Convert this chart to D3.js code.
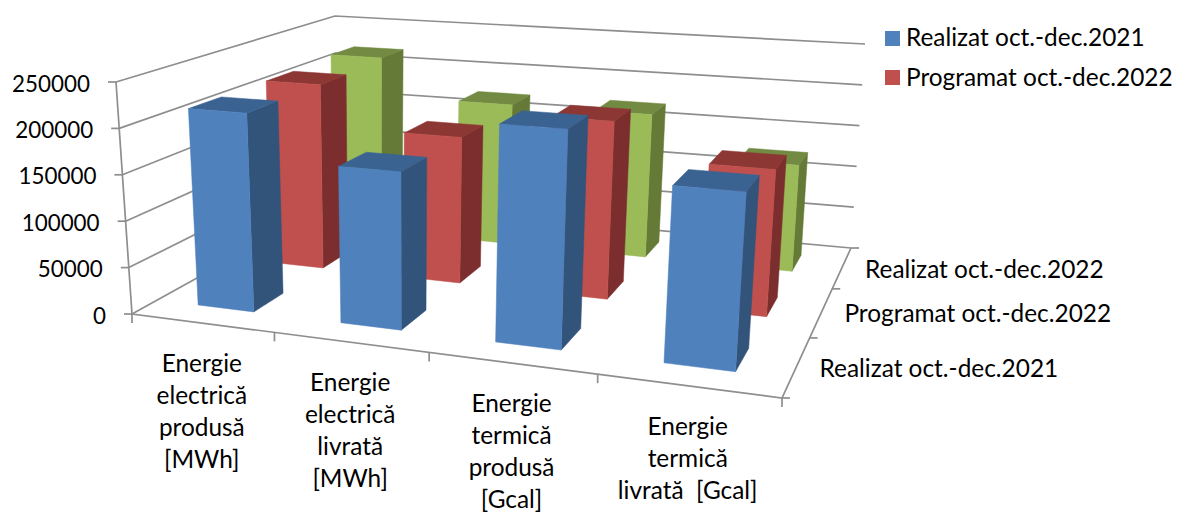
<html>
  <head>
    <meta charset="utf-8">
    <title>Energie</title>
    <script src="https://cdn.jsdelivr.net/npm/d3@7"></script>
    <style>
     html, body { margin: 0; padding: 0; background: #fff; overflow: hidden; }
     text { font-family: Lato, sans-serif; font-size: 24.4px; fill: #000; white-space: pre; }
     text.num { font-size: 22.4px; }
     .grid { fill: none; stroke: #8e8e8e; stroke-width: 1.7px; }
    </style>
  </head>
  <body>
    <svg id="chart" width="1177" height="513"></svg>
    <script>
     var categories = [
       ["Energie", "electrică", "produsă", "[MWh]"],
       ["Energie", "electrică", "livrată", "[MWh]"],
       ["Energie", "termică", "produsă", "[Gcal]"],
       ["Energie", "termică", "livrată  [Gcal]"]
     ];
     var seriesNames = ["Realizat oct.-dec.2021", "Programat oct.-dec.2022", "Realizat oct.-dec.2022"];
     var legendNames = ["Realizat oct.-dec.2021", "Programat oct.-dec.2022"];
     var realizat2021 = [215000, 166000, 224000, 176000];
     var programat2022 = [215000, 166000, 197000, 158000];
     var realizat2022 = [219000, 171000, 171000, 124000];
     var yTicks = [0, 50000, 100000, 150000, 200000, 250000];

     var seriesValues = [realizat2021, programat2022, realizat2022];
     var faces = [
       {front: "#4f81bd", side: "#32537a", top: "#3b6392"},
       {front: "#c0504d", side: "#7b2e2d", top: "#8d3735"},
       {front: "#9bbb59", side: "#657a37", top: "#728a42"}
     ];

     // unit square -> screen quad, corners are [front-left, front-right, back-right, back-left]
     var quad = function(q) {
       var sx = q[0][0] - q[1][0] + q[2][0] - q[3][0],
           sy = q[0][1] - q[1][1] + q[2][1] - q[3][1],
           dx1 = q[1][0] - q[2][0], dx2 = q[3][0] - q[2][0],
           dy1 = q[1][1] - q[2][1], dy2 = q[3][1] - q[2][1],
           den = dx1 * dy2 - dx2 * dy1,
           g = (sx * dy2 - dx2 * sy) / den,
           h = (dx1 * sy - sx * dy1) / den;
       return function(u, v) {
         var w = 1 + g * u + h * v;
         return [
           (q[0][0] + (q[1][0] - q[0][0] + g * q[1][0]) * u + (q[3][0] - q[0][0] + h * q[3][0]) * v) / w,
           (q[0][1] + (q[1][1] - q[0][1] + g * q[1][1]) * u + (q[3][1] - q[0][1] + h * q[3][1]) * v) / w
         ];
       };
     };

     var floor = quad([[132, 314], [782, 398], [851, 248], [336, 201]]);
     var ceiling = quad([[116, 82], [800, 132], [865, 44], [335, 16]]);

     var x = d3.scaleBand().domain(d3.range(categories.length)).range([0, 1]).paddingInner(0.6).paddingOuter(0.3);
     var z = d3.scaleBand().domain(d3.range(seriesNames.length)).range([0, 1]).paddingInner(0.6).paddingOuter(0.3);
     var y = d3.scaleLinear().domain([0, 250000]).range([0, 1]);

     var project = function(u, v, value) {
       var a = floor(u, v), b = ceiling(u, v), t = y(value);
       return [a[0] + (b[0] - a[0]) * t, a[1] + (b[1] - a[1]) * t];
     };

     var svg = d3.select("#chart");
     var line = d3.line();
     var poly = function(pts) { return line(pts) + "Z"; };
     var grid = svg.append("g");

     yTicks.forEach(function(t) {
       grid.append("path").attr("class", "grid")
           .attr("d", line([project(0, 0, t), project(0, 1, t), project(1, 1, t)]));
       var p = project(0, 0, t);
       grid.append("path").attr("class", "grid").attr("d", line([p, [p[0] - 8, p[1]]]));
       svg.append("text")
          .attr("class", "num")
          .attr("x", p[0] - 26)
          .attr("y", p[1] + 4)
          .attr("text-anchor", "end")
          .attr("dominant-baseline", "middle")
          .text(t);
     });

     grid.append("path").attr("class", "grid")
         .attr("d", line([project(0, 0, 250000), project(0, 0, 0), project(1, 0, 0), project(1, 1, 0)]));

     d3.range(categories.length + 1).forEach(function(i) {
       var p = floor(i / categories.length, 0);
       grid.append("path").attr("class", "grid").attr("d", line([p, [p[0], p[1] + 9]]));
     });
     d3.range(seriesNames.length + 1).forEach(function(i) {
       var p = floor(1, i / seriesNames.length);
       grid.append("path").attr("class", "grid").attr("d", line([p, [p[0] + 8, p[1]]]));
     });

     // back row first so the front bars cover it
     d3.range(seriesNames.length - 1, -1, -1).forEach(function(s) {
       seriesValues[s].forEach(function(val, c) {
         var u0 = x(c), u1 = u0 + x.bandwidth(), v0 = z(s), v1 = v0 + z.bandwidth();
         var bar = svg.append("g");
         bar.append("path").attr("fill", faces[s].side).attr("stroke", faces[s].side).attr("stroke-width", 0.5)
            .attr("d", poly([project(u1, v0, 0), project(u1, v1, 0), project(u1, v1, val), project(u1, v0, val)]));
         bar.append("path").attr("fill", faces[s].top).attr("stroke", faces[s].top).attr("stroke-width", 0.5)
            .attr("d", poly([project(u0, v0, val), project(u1, v0, val), project(u1, v1, val), project(u0, v1, val)]));
         bar.append("path").attr("fill", faces[s].front).attr("stroke", faces[s].front).attr("stroke-width", 0.5)
            .attr("d", poly([project(u0, v0, 0), project(u1, v0, 0), project(u1, v0, val), project(u0, v0, val)]));
       });
     });

     categories.forEach(function(lines, c) {
       var p = floor((c + 0.5) / categories.length, 0);
       var label = svg.append("text").attr("text-anchor", "middle");
       lines.forEach(function(l, i) {
         label.append("tspan").attr("x", p[0]).attr("y", p[1] + 49 + i * 32).text(l);
       });
     });

     seriesNames.forEach(function(name, s) {
       var p = floor(1, (s + 0.5) / seriesNames.length);
       svg.append("text")
          .attr("x", p[0] + 23)
          .attr("y", p[1] + 4)
          .attr("dominant-baseline", "middle")
          .text(name);
     });

     legendNames.forEach(function(name, i) {
       svg.append("rect")
          .attr("x", 885).attr("y", 31 + i * 39)
          .attr("width", 15).attr("height", 15)
          .attr("fill", faces[i].front);
       svg.append("text")
          .attr("x", 906).attr("y", 40 + i * 40)
          .attr("dominant-baseline", "middle")
          .text(name);
     });
    </script>
  </body>
</html>
